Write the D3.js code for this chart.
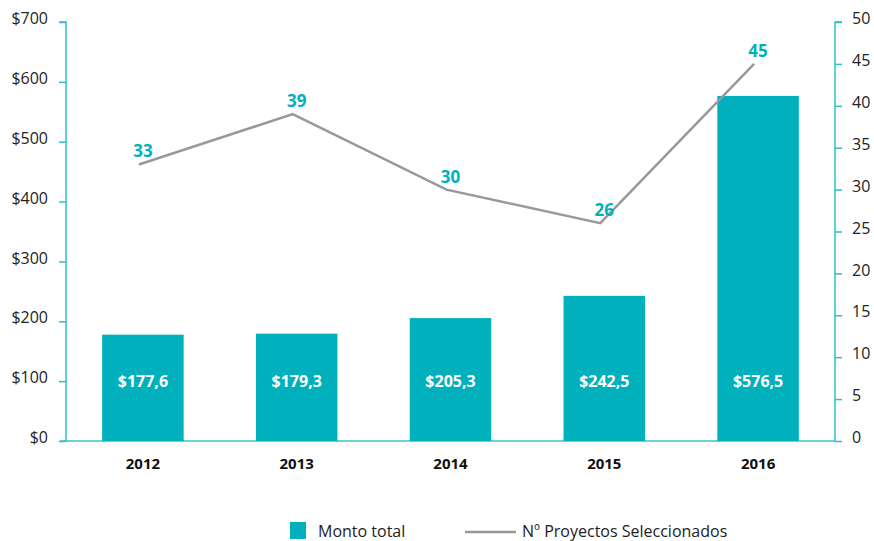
<!DOCTYPE html>
<html>
<head>
<meta charset="utf-8">
<script src="https://cdn.jsdelivr.net/npm/d3@7"></script>
<style>
	body { margin: 0; background: #fff; }
	svg, svg text { font-family: 'Open Sans', 'Noto Sans', sans-serif; }
</style>
</head>
<body>
<svg width="874" height="541"></svg>
<script>
const years = ['2012', '2013', '2014', '2015', '2016'];
const montoTotal = [177.6, 179.3, 205.3, 242.5, 576.5];
const montoLabels = ['$177,6', '$179,3', '$205,3', '$242,5', '$576,5'];
const proyectos = [33, 39, 30, 26, 45];
const leftTicks = [0, 100, 200, 300, 400, 500, 600, 700];
const rightTicks = [0, 5, 10, 15, 20, 25, 30, 35, 40, 45, 50];

const teal = '#00b1bd',
	axisColor = '#2bc0cb',
	lineColor = '#999999',
	svg = d3.select('svg'),
	margin = {top: 22, right: 39, bottom: 100, left: 66},
	width = 874 - margin.left - margin.right,
	height = 541 - margin.top - margin.bottom;

let g = svg.append('g').attr('transform', `translate(${margin.left},${margin.top})`);

let x = d3.scaleBand().domain(years).range([0, width]).paddingInner(0.47).paddingOuter(0.235);
let yLeft = d3.scaleLinear().domain([0, 700]).range([height, 0]);
let yRight = d3.scaleLinear().domain([0, 50]).range([height, 0]);

// baseline
g.append('line')
	.attr('x1', -6).attr('x2', width)
	.attr('y1', height).attr('y2', height)
	.attr('stroke', '#6fd0d8').attr('stroke-width', 2);

// left axis
let leftAxis = g.append('g')
	.call(d3.axisLeft(yLeft).tickValues(leftTicks).tickSize(7).tickPadding(11).tickFormat(d => '$' + d));
leftAxis.attr('font-family', null).attr('font-size', null);
leftAxis.select('.domain').attr('stroke', axisColor).attr('stroke-width', 1.5).attr('d', `M-7,0H0V${height}`);
leftAxis.selectAll('.tick line').attr('stroke', axisColor).attr('stroke-width', 1.5);
leftAxis.selectAll('.tick text').attr('fill', '#222').style('font-size', '16px').attr('dy', '0.1em');

// right axis
let rightAxis = g.append('g')
	.attr('transform', `translate(${width},0)`)
	.call(d3.axisRight(yRight).tickValues(rightTicks).tickSize(7).tickPadding(10));
rightAxis.attr('font-family', null).attr('font-size', null);
rightAxis.select('.domain').attr('stroke', axisColor).attr('stroke-width', 1.5).attr('d', `M7,0H0V${height}`);
rightAxis.selectAll('.tick line').attr('stroke', axisColor).attr('stroke-width', 1.5);
rightAxis.selectAll('.tick text').attr('fill', '#222').style('font-size', '16px').attr('dy', '0.1em');

// bars
g.append('g')
	.selectAll('rect')
	.data(years)
	.enter().append('rect')
	.attr('x', d => x(d))
	.attr('y', (d, i) => yLeft(montoTotal[i]))
	.attr('width', x.bandwidth())
	.attr('height', (d, i) => height - yLeft(montoTotal[i]))
	.attr('fill', teal);

// bar labels
g.append('g')
	.selectAll('text')
	.data(years)
	.enter().append('text')
	.attr('x', d => x(d) + x.bandwidth() / 2)
	.attr('y', yLeft(100) + 6)
	.attr('text-anchor', 'middle')
	.attr('fill', '#fff')
	.style('font-size', '16px')
	.style('font-weight', 'bold')
	.text((d, i) => montoLabels[i]);

// year labels
g.append('g')
	.selectAll('text')
	.data(years)
	.enter().append('text')
	.attr('x', d => x(d) + x.bandwidth() / 2)
	.attr('y', height + 28)
	.attr('text-anchor', 'middle')
	.attr('fill', '#111')
	.style('font-size', '15px')
	.style('font-weight', 'bold')
	.text(d => d);

// line
let line = d3.line()
	.x((d, i) => x(years[i]) + x.bandwidth() / 2 - 4)
	.y(d => yRight(d));

g.append('path')
	.datum(proyectos)
	.attr('d', line)
	.attr('fill', 'none')
	.attr('stroke', lineColor)
	.attr('stroke-width', 2.5);

g.append('g')
	.selectAll('text')
	.data(proyectos)
	.enter().append('text')
	.attr('x', (d, i) => x(years[i]) + x.bandwidth() / 2)
	.attr('y', d => yRight(d) - 7)
	.attr('text-anchor', 'middle')
	.attr('fill', teal)
	.style('font-size', '17px')
	.style('font-weight', 'bold')
	.text(d => d);

// legend
let legend = svg.append('g').attr('transform', 'translate(290,522)');
legend.append('rect').attr('width', 16).attr('height', 17).attr('fill', teal);
legend.append('text').attr('x', 28).attr('y', 15).attr('fill', '#222').style('font-size', '16px').text('Monto total');
legend.append('line').attr('x1', 175).attr('x2', 226).attr('y1', 10).attr('y2', 10)
	.attr('stroke', lineColor).attr('stroke-width', 2.5);
legend.append('text').attr('x', 232).attr('y', 15).attr('fill', '#222').style('font-size', '16px').text('Nº Proyectos Seleccionados');
</script>
</body>
</html>
